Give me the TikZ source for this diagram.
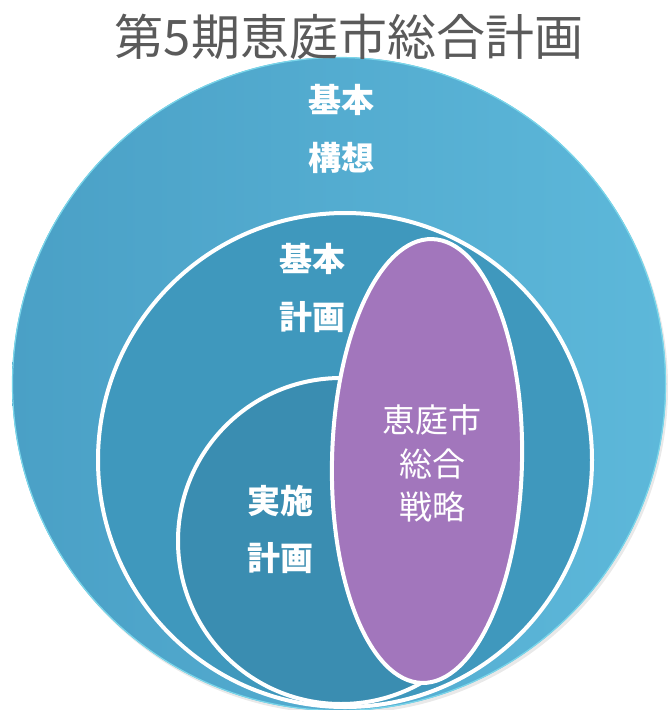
\documentclass[tikz,border=0pt]{standalone}
\usepackage{fontspec}
\newfontfamily\jp{Noto Sans CJK JP}
\definecolor{outerL}{HTML}{4AA0C6}
\definecolor{outerR}{HTML}{5DB8DA}
\definecolor{midC}{HTML}{3F98BD}
\definecolor{innC}{HTML}{3A8DB1}
\definecolor{purp}{HTML}{A276BC}
\definecolor{titleC}{HTML}{5A5A5A}
\definecolor{rimC}{HTML}{7AD6EA}
\tikzset{
  ring/.style={draw=white, line width=4pt},
  lbl/.style={font=\jp\bfseries\fontsize{33}{33}\selectfont, text=white, inner sep=0pt, anchor=center},
  plbl/.style={font=\jp\fontsize{33}{33}\selectfont, text=white, inner sep=0pt, anchor=center},
}
\begin{document}
\begin{tikzpicture}[x=1pt,y=-1pt]
\useasboundingbox (0,0) rectangle (668,710);
% outer circle
\fill[black!25, opacity=0.35] (341,387) circle (327);
\shade[left color=outerL, right color=outerR] (339,384) circle (327);
\draw[rimC, line width=1.2pt] (339,384) circle (326.5);
% circle 2
\fill[midC] (345,460) circle (247);
\draw[ring] (345,460) circle (247);
% circle 3
\fill[innC] (341,541) circle (163);
\draw[ring] (341,541) circle (163);
% ellipse
\fill[purp, rotate around={-1.3:(427,461)}] (427,461) ellipse (95 and 222);
\draw[ring, rotate around={-1.3:(427,461)}] (427,461) ellipse (95 and 222);
% labels
\node[lbl] (k1) at (341,100) {基本};
\node[lbl] (k2) at (341,158) {構想};
\node[lbl] (m1) at (312,259) {基本};
\node[lbl] (m2) at (312,317) {計画};
\node[lbl] (i1) at (280,501) {実施};
\node[lbl] (i2) at (280,558) {計画};
\node[plbl] (p1) at (432,420) {恵庭市};
\node[plbl] (p2) at (432,464) {総合};
\node[plbl] (p3) at (432,507) {戦略};
% title
\node[font=\jp\fontsize{49}{49}\selectfont, text=titleC, inner sep=0pt] (title) at (349,37) {第5期恵庭市総合計画};
\end{tikzpicture}
\end{document}
